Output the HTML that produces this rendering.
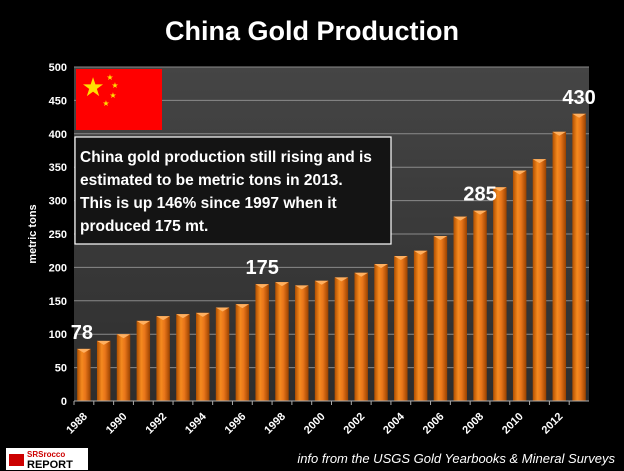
<!DOCTYPE html>
<html><head><meta charset="utf-8"><style>
html,body{margin:0;padding:0;background:#000;}
svg{display:block;font-family:"Liberation Sans",sans-serif;}
</style></head><body>
<svg id="chart" width="624" height="471" viewBox="0 0 624 471">
<defs>
<linearGradient id="bg" x1="0" y1="0" x2="0" y2="1"><stop offset="0" stop-color="#454545"/><stop offset="1" stop-color="#2e2e2e"/></linearGradient>
<linearGradient id="bar" x1="0" y1="0" x2="1" y2="0"><stop offset="0" stop-color="#b04f00"/><stop offset="0.35" stop-color="#f58a1f"/><stop offset="0.6" stop-color="#e9761a"/><stop offset="1" stop-color="#9a4200"/></linearGradient>
</defs>
<rect x="0" y="0" width="624" height="471" fill="#000"/>
<text x="312" y="40" text-anchor="middle" fill="#fff" font-size="27" font-weight="bold">China Gold Production</text>
<rect x="74" y="67" width="515" height="334" fill="url(#bg)"/>
<g id="grid"></g>
<g id="bars"></g>
<g id="axes"></g>
<g>
<rect x="76" y="69" width="86" height="61" fill="#ff0000"/>
<text x="93" y="96" text-anchor="middle" fill="#ffde00" font-size="26">★</text>
<text x="110" y="80" text-anchor="middle" fill="#ffde00" font-size="8">★</text>
<text x="115" y="88" text-anchor="middle" fill="#ffde00" font-size="8">★</text>
<text x="113" y="98" text-anchor="middle" fill="#ffde00" font-size="8">★</text>
<text x="106" y="106" text-anchor="middle" fill="#ffde00" font-size="8">★</text>
</g>
<g>
<rect x="75" y="137" width="316" height="107" fill="#141414" stroke="#fff" stroke-width="1.2"/>
<text fill="#fff" font-size="15.5" font-weight="bold">
<tspan x="80" y="162">China gold production still rising and is</tspan>
<tspan x="80" y="185">estimated to be metric tons in 2013.</tspan>
<tspan x="80" y="208">This is up 146% since 1997 when it</tspan>
<tspan x="80" y="231">produced 175 mt.</tspan>
</text>
</g>
<text transform="translate(36,234) rotate(-90)" text-anchor="middle" fill="#fff" font-size="11" font-weight="bold">metric tons</text>
<g id="labels"></g>
<g>
<rect x="6" y="448" width="82" height="22" fill="#fff"/>
<rect x="9" y="454" width="15" height="12" fill="#c00"/>
<text x="27" y="457" fill="#c00" font-size="8" font-weight="bold">SRSrocco</text>
<text x="27" y="468" fill="#000" font-size="11" font-weight="bold">REPORT</text>
</g>
<text x="615" y="463" text-anchor="end" fill="#fff" font-size="13" font-style="italic">info from the USGS  Gold  Yearbooks &amp; Mineral Surveys</text>
</svg>
<script>
const years = [1988,1989,1990,1991,1992,1993,1994,1995,1996,1997,1998,1999,2000,2001,2002,2003,2004,2005,2006,2007,2008,2009,2010,2011,2012,2013];
const values = [78,90,100,120,127,130,132,140,145,175,178,173,180,185,192,205,217,225,247,276,285,320,345,362,403,430];
const yTicks = [0,50,100,150,200,250,300,350,400,450,500];
const calloutYears = [1988,1997,2008,2013];
const calloutText = ["78","175","285","430"];
const NS="http://www.w3.org/2000/svg";
const X0=74,X1=589,Y0=401,Y1=67,YMAX=500;
const slot=(X1-X0)/years.length;
function xPos(i){return X0+slot*i;}
function yPos(v){return Y0-(v/YMAX)*(Y0-Y1);}
function mk(tag,attrs,parent){const e=document.createElementNS(NS,tag);for(const k in attrs)e.setAttribute(k,attrs[k]);parent.appendChild(e);return e;}
const grid=document.getElementById('grid'),bars=document.getElementById('bars'),axes=document.getElementById('axes'),labels=document.getElementById('labels');
yTicks.forEach(t=>{
  if(t>0){const g=mk('line',{x1:X0,x2:X1,y1:yPos(t),y2:yPos(t),stroke:'#8a8a8a','stroke-width':1},grid);
  
  }
  const tx=mk('text',{x:X0-7,y:yPos(t)+4,'text-anchor':'end',fill:'#fff','font-size':11,'font-weight':'bold'},axes);
  tx.textContent=t;
  
  
});
const ax=mk('line',{x1:X0,x2:X1,y1:Y0,y2:Y0,stroke:'#aaa','stroke-width':1},axes);


years.forEach((yr,i)=>{
  const bw=slot*0.68,bx=xPos(i)+(slot-bw)/2,by=yPos(values[i]);
  const r=mk('rect',{x:bx,y:by,width:bw,height:Y0-by,fill:'url(#bar)'},bars);
  
  
  const cap=mk('polygon',{points:`${bx},${by} ${bx+bw},${by} ${bx+bw/2},${by+4}`,fill:'#ffb060'},bars);
  
  
  const tk=mk('line',{x1:xPos(i),x2:xPos(i),y1:Y0,y2:Y0+4,stroke:'#aaa'},axes);
  
  
  if(i%2===0){
    const cx=xPos(i)+slot/2+4,cy=Y0+16;
    const t=mk('text',{x:cx,y:cy,'text-anchor':'end',fill:'#fff','font-size':11,'font-weight':'bold',transform:`rotate(-45 ${cx} ${cy})`},axes);
    t.textContent=yr;
    
    
  }
});
calloutYears.forEach((yr,j)=>{
  const i=years.indexOf(yr);
  const t=mk('text',{x:xPos(i)+slot/2+(j===0?-2:0),y:yPos(values[i])-10,'text-anchor':'middle',fill:'#fff','font-size':20,'font-weight':'bold'},labels);
  t.textContent=calloutText[j];
  
  
});
</script>
</body></html>
